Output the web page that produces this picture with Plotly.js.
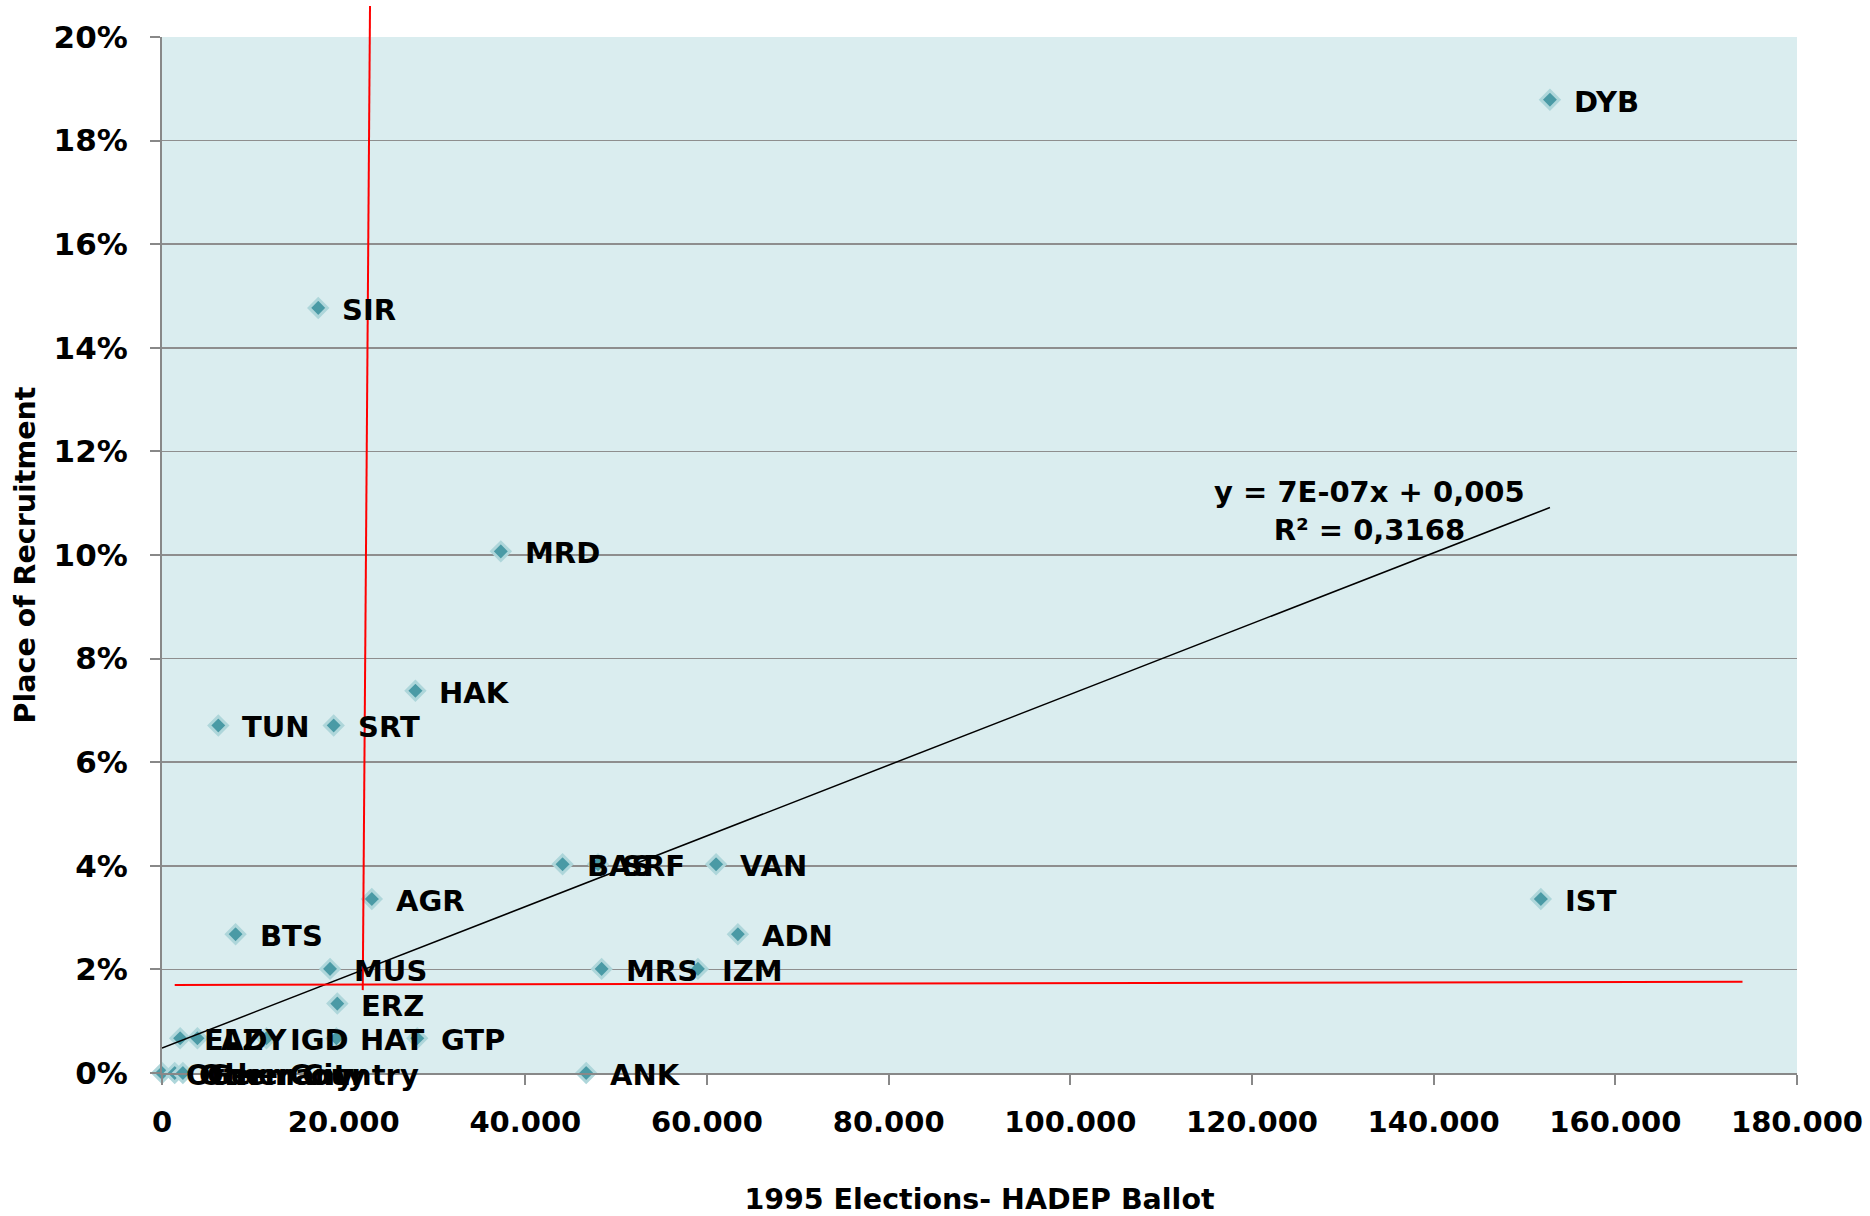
<!DOCTYPE html>
<html>
<head>
<meta charset="utf-8">
<script src="https://cdn.plot.ly/plotly-3.0.1.min.js"></script>
<style>html,body{margin:0;padding:0;background:#fff;}#chart{width:1870px;height:1216px;}</style>
</head>
<body>
<div id="chart"></div>
<script>
// Province / place labels
const labels = ["DYB","SIR","MRD","HAK","TUN","SRT","BAS","SRF","VAN","AGR","IST","BTS","ADN","MUS","MRS","IZM","ERZ","GTP","ELZ","ADY","IGD","HAT","ANK","Other Country","Other City","Germany"];
// 1995 HADEP ballot (votes)
const ballot = [152800,17200,37300,27900,6200,18900,44100,48000,61000,23100,151800,8100,63400,18500,48400,59000,19300,28100,2000,3900,11500,19200,46700,0,1400,2300];
// Share of recruitment
const recruit = [0.1879,0.1477,0.1007,0.0738,0.0671,0.0671,0.0403,0.0403,0.0403,0.0336,0.0336,0.0268,0.0268,0.0201,0.0201,0.0201,0.0134,0.0067,0.0067,0.0067,0.0067,0.0067,0,0,0,0];

// Linear trendline (as shown in chart)
const trendX = [0, 152800];
const trendSlope = 6.83e-7;
const trendIntercept = 0.0048;
const trendText = "y = 7E-07x + 0,005<br>R² = 0,3168";
const trendLabelPos = [132900, 0.1085];

// Hand-drawn red reference lines (data units)
const redVX = [22900, 22100], redVY = [0.206, 0.0160];
const redHX = [1400, 174000], redHY = [0.0170, 0.0176];

const xRange = [0, 180000], yRange = [0, 0.2];
const toPx = v => (v - xRange[0]) / (xRange[1] - xRange[0]);
const toPy = v => (v - yRange[0]) / (yRange[1] - yRange[0]);

const font = {family: "DejaVu Sans, Verdana, sans-serif", color: "#000", weight: "bold"};

const traces = [
  {
    x: ballot, y: recruit, type: "scatter", mode: "markers",
    marker: {symbol: "diamond", size: 14, color: "#4A9AA5", line: {color: "#AED6DA", width: 3}},
    cliponaxis: false, hoverinfo: "skip"
  },
  {
    x: trendX, y: trendX.map(v => trendSlope * v + trendIntercept),
    type: "scatter", mode: "lines", line: {color: "#000", width: 1.5}, hoverinfo: "skip"
  }
];

const annotations = labels.map((t, i) => ({
  x: ballot[i], y: recruit[i], text: t, showarrow: false,
  xanchor: "left", yanchor: "middle", xshift: 22, yshift: -2,
  font: Object.assign({}, font, {size: 29})
}));
annotations.push({
  x: trendLabelPos[0], y: trendLabelPos[1], text: trendText, showarrow: false,
  xanchor: "center", yanchor: "middle",
  font: Object.assign({}, font, {size: 29})
});

const shapes = [
  {type: "line", xref: "paper", yref: "paper", x0: toPx(redVX[0]), y0: toPy(redVY[0]), x1: toPx(redVX[1]), y1: toPy(redVY[1]), line: {color: "#FF0000", width: 2}},
  {type: "line", xref: "paper", yref: "paper", x0: toPx(redHX[0]), y0: toPy(redHY[0]), x1: toPx(redHX[1]), y1: toPy(redHY[1]), line: {color: "#FF0000", width: 2}}
];

const layout = {
  width: 1870, height: 1216,
  margin: {l: 162, r: 73, t: 37, b: 143},
  paper_bgcolor: "#fff", plot_bgcolor: "#DAEDEF",
  separators: ",.",
  showlegend: false,
  xaxis: {
    range: xRange, dtick: 20000, tick0: 0, tickformat: ",d",
    showgrid: false, zeroline: false,
    showline: true, linecolor: "#888", linewidth: 2,
    ticks: "outside", ticklen: 10, tickcolor: "#888", tickwidth: 2,
    ticklabelstandoff: 12,
    tickfont: Object.assign({}, font, {size: 29}),
    title: {text: "1995 Elections- HADEP Ballot", font: Object.assign({}, font, {size: 28.5}), standoff: 55}
  },
  yaxis: {
    range: yRange, dtick: 0.02, tick0: 0, tickformat: ".0%",
    showgrid: true, gridcolor: "#8E8E8E", gridwidth: 1.5, zeroline: false,
    showline: true, linecolor: "#888", linewidth: 2,
    ticks: "outside", ticklen: 10, tickcolor: "#888", tickwidth: 2,
    ticklabelstandoff: 16,
    tickfont: Object.assign({}, font, {size: 31}),
    title: {text: "Place of Recruitment", font: Object.assign({}, font, {size: 28.5}), standoff: 10}
  },
  annotations: annotations,
  shapes: shapes
};

Plotly.newPlot("chart", traces, layout, {staticPlot: true, displayModeBar: false});
</script>
</body>
</html>
